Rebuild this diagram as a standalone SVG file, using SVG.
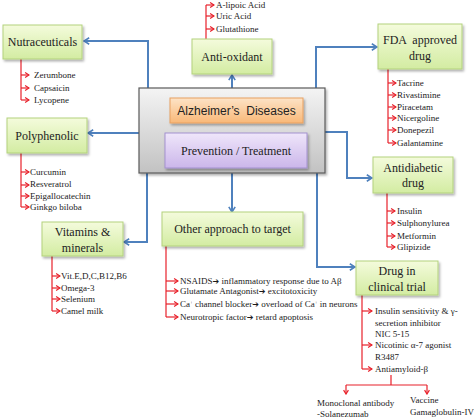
<svg xmlns="http://www.w3.org/2000/svg" width="474" height="419" viewBox="0 0 474 419">
<defs>
<linearGradient id="gG" x1="0" y1="0" x2="0" y2="1"><stop offset="0" stop-color="#f4fbdc"/><stop offset="1" stop-color="#d3eca2"/></linearGradient>
<linearGradient id="gC" x1="0" y1="0" x2="0" y2="1"><stop offset="0" stop-color="#f4f4f4"/><stop offset="1" stop-color="#c2c2c2"/></linearGradient>
<linearGradient id="gO" x1="0" y1="0" x2="0" y2="1"><stop offset="0" stop-color="#fde3c6"/><stop offset="1" stop-color="#f9b878"/></linearGradient>
<linearGradient id="gP" x1="0" y1="0" x2="0" y2="1"><stop offset="0" stop-color="#efe6fa"/><stop offset="1" stop-color="#cbb6ea"/></linearGradient>
<filter id="sh" x="-10%" y="-10%" width="130%" height="140%"><feDropShadow dx="1.5" dy="2" stdDeviation="1.2" flood-color="#000" flood-opacity="0.3"/></filter>
<marker id="ab" viewBox="0 0 10 10" refX="8.5" refY="5" markerWidth="8" markerHeight="8" markerUnits="userSpaceOnUse" orient="auto"><path d="M2,1 L8.5,5 L2,9" fill="none" stroke="#4f81bd" stroke-width="2"/></marker>
<marker id="ar" viewBox="0 0 10 10" refX="8.5" refY="5" markerWidth="6" markerHeight="6" markerUnits="userSpaceOnUse" orient="auto"><path d="M2,1 L8.5,5 L2,9" fill="none" stroke="#e8202a" stroke-width="2"/></marker>
<style>
.g{fill:url(#gG);stroke:#b3d27c;stroke-width:1;filter:url(#sh)}
.bt{font-family:'Liberation Serif',serif;font-size:12px;fill:#222;text-anchor:middle}
.lt{font-family:'Liberation Serif',serif;font-size:9px;fill:#1a1a1a}
.ar{font-family:'DejaVu Sans',sans-serif;font-size:8px}
.bl{fill:none;stroke:#4f81bd;stroke-width:2;marker-end:url(#ab)}
.rl{fill:none;stroke:#e8202a;stroke-width:1.2}
.ra{fill:none;stroke:#e8202a;stroke-width:1.2;marker-end:url(#ar)}
</style>
</defs>
<rect width="474" height="419" fill="#fff"/>

<g id="connectors">
<path class="bl" d="M148,88 V41 H84"/>
<path class="bl" d="M232,88 V75"/>
<path class="bl" d="M316,88 V47 H377"/>
<path class="bl" d="M139,133 H88"/>
<path class="bl" d="M147,173 V242 H124"/>
<path class="bl" d="M232,173 V212"/>
<path class="bl" d="M317,173 V267 H355"/>
<path class="bl" d="M325,132 H347 V178 H372"/>

<path class="rl" d="M206,39 V5"/>
<path class="ra" d="M206,5 H214"/><path class="ra" d="M206,16 H214"/><path class="ra" d="M206,29 H214"/>
<path class="rl" d="M21,59 V100"/>
<path class="ra" d="M21,75 H29"/><path class="ra" d="M21,88 H29"/><path class="ra" d="M21,100 H29"/>
<path class="rl" d="M21,153 V207"/>
<path class="ra" d="M21,172 H29"/><path class="ra" d="M21,185 H29"/><path class="ra" d="M21,196 H29"/><path class="ra" d="M21,207 H29"/>
<path class="rl" d="M52,256 V311"/>
<path class="ra" d="M52,276 H60"/><path class="ra" d="M52,288 H60"/><path class="ra" d="M52,299 H60"/><path class="ra" d="M52,311 H60"/>
<path class="rl" d="M388,69 V143"/>
<path class="ra" d="M388,83 H396"/><path class="ra" d="M388,95 H396"/><path class="ra" d="M388,107 H396"/><path class="ra" d="M388,118 H396"/><path class="ra" d="M388,130 H396"/><path class="ra" d="M388,143 H396"/>
<path class="rl" d="M387,193 V247"/>
<path class="ra" d="M387,211 H395"/><path class="ra" d="M387,223 H395"/><path class="ra" d="M387,236 H395"/><path class="ra" d="M387,247 H395"/>
<path class="rl" d="M166,246 V317"/>
<path class="ra" d="M166,281 H178"/><path class="ra" d="M166,291 H178"/><path class="ra" d="M166,304 H178"/><path class="ra" d="M166,317 H178"/>
<path class="rl" d="M362,295 V369"/>
<path class="ra" d="M362,311 H372"/><path class="ra" d="M362,345 H372"/><path class="ra" d="M362,369 H372"/>
<path class="rl" d="M391,375 V385 M346,385 H427"/>
<path class="ra" d="M346,385 V394"/><path class="ra" d="M427,385 V394"/>
</g>

<g id="center">
<rect x="139" y="88" width="186" height="85" fill="url(#gC)" stroke="#5a5a5a" stroke-width="1.2" filter="url(#sh)"/>
<g id="alzheimers">
<rect x="170" y="98" width="133" height="25" fill="url(#gO)" stroke="#e8a060" stroke-width="1" filter="url(#sh)"/>
<text x="236.5" y="115" font-family="'Liberation Sans',sans-serif" font-size="12" fill="#222" text-anchor="middle" xml:space="preserve">Alzheimer’s  Diseases</text>
</g>
<g id="prevention">
<rect x="165" y="133" width="142" height="35" fill="url(#gP)" stroke="#a391cf" stroke-width="1" filter="url(#sh)"/>
<text x="236" y="155" class="bt">Prevention / Treatment</text>
</g>
</g>

<g id="nutraceuticals">
<rect class="g" x="3" y="25" width="79" height="34"/>
<text class="bt" x="42.5" y="46">Nutraceuticals</text>
<text class="lt" x="34" y="78">Zerumbone</text>
<text class="lt" x="34" y="91">Capsaicin</text>
<text class="lt" x="34" y="103">Lycopene</text>
</g>

<g id="antioxidant">
<rect class="g" x="192" y="39" width="80" height="35"/>
<text class="bt" x="232" y="61">Anti-oxidant</text>
<text class="lt" x="216" y="8">A-lipoic Acid</text>
<text class="lt" x="216" y="19">Uric Acid</text>
<text class="lt" x="216" y="32">Glutathione</text>
</g>

<g id="fda">
<rect class="g" x="378" y="24" width="84" height="45"/>
<text class="bt" x="420" y="44" xml:space="preserve">FDA  approved</text>
<text class="bt" x="420" y="60">drug</text>
<text class="lt" x="397" y="86">Tacrine</text>
<text class="lt" x="397" y="98">Rivastimine</text>
<text class="lt" x="397" y="110">Piracetam</text>
<text class="lt" x="397" y="121">Nicergoline</text>
<text class="lt" x="397" y="133">Donepezil</text>
<text class="lt" x="397" y="146">Galantamine</text>
</g>

<g id="polyphenolic">
<rect class="g" x="7" y="118" width="80" height="35"/>
<text class="bt" x="47" y="140">Polyphenolic</text>
<text class="lt" x="30" y="175">Curcumin</text>
<text class="lt" x="30" y="187">Resveratrol</text>
<text class="lt" x="30" y="199">Epigallocatechin</text>
<text class="lt" x="30" y="210">Ginkgo biloba</text>
</g>

<g id="antidiabetic">
<rect class="g" x="373" y="157" width="80" height="36"/>
<text class="bt" x="413" y="172">Antidiabetic</text>
<text class="bt" x="413" y="187">drug</text>
<text class="lt" x="397" y="214">Insulin</text>
<text class="lt" x="397" y="226">Sulphonylurea</text>
<text class="lt" x="397" y="239">Metformin</text>
<text class="lt" x="397" y="250">Glipizide</text>
</g>

<g id="vitamins">
<rect class="g" x="42" y="222" width="81" height="34"/>
<text class="bt" x="82.5" y="236">Vitamins &amp;</text>
<text class="bt" x="82.5" y="252">minerals</text>
<text class="lt" x="61" y="279">Vit.E,D,C,B12,B6</text>
<text class="lt" x="61" y="291">Omega-3</text>
<text class="lt" x="61" y="302">Selenium</text>
<text class="lt" x="61" y="314">Camel milk</text>
</g>

<g id="other">
<rect class="g" x="162" y="212" width="141" height="34"/>
<text class="bt" x="232.5" y="233">Other approach to target</text>
<text class="lt" x="180" y="284">NSAIDS<tspan class="ar">➔</tspan> inflammatory response due to Aβ</text>
<text class="lt" x="180" y="294">Glutamate Antagonist<tspan class="ar">➔</tspan> excitotoxicity</text>
<text class="lt" x="180" y="307">Ca<tspan font-size="5" dy="-3">+</tspan><tspan dy="3"> channel blocker</tspan><tspan class="ar">➔</tspan> overload of Ca<tspan font-size="5" dy="-3">+</tspan><tspan dy="3">  in neurons</tspan></text>
<text class="lt" x="180" y="320">Neurotropic factor<tspan class="ar">➔</tspan> retard apoptosis</text>
</g>

<g id="clinical">
<rect class="g" x="356" y="261" width="82" height="34"/>
<text class="bt" x="397" y="275">Drug in</text>
<text class="bt" x="397" y="291">clinical trial</text>
<text class="lt" x="375" y="314">Insulin sensitivity &amp; γ-</text>
<text class="lt" x="375" y="326">secretion inhibitor</text>
<text class="lt" x="375" y="337">NIC 5-15</text>
<text class="lt" x="375" y="348">Nicotinic α-7 agonist</text>
<text class="lt" x="375" y="360">R3487</text>
<text class="lt" x="375" y="372">Antiamyloid-β</text>
<text class="lt" x="317" y="406">Monoclonal antibody</text>
<text class="lt" x="317" y="417">-Solanezumab</text>
<text class="lt" x="410" y="403">Vaccine</text>
<text class="lt" x="410" y="415">Gamaglobulin-IV</text>
</g>
</svg>
